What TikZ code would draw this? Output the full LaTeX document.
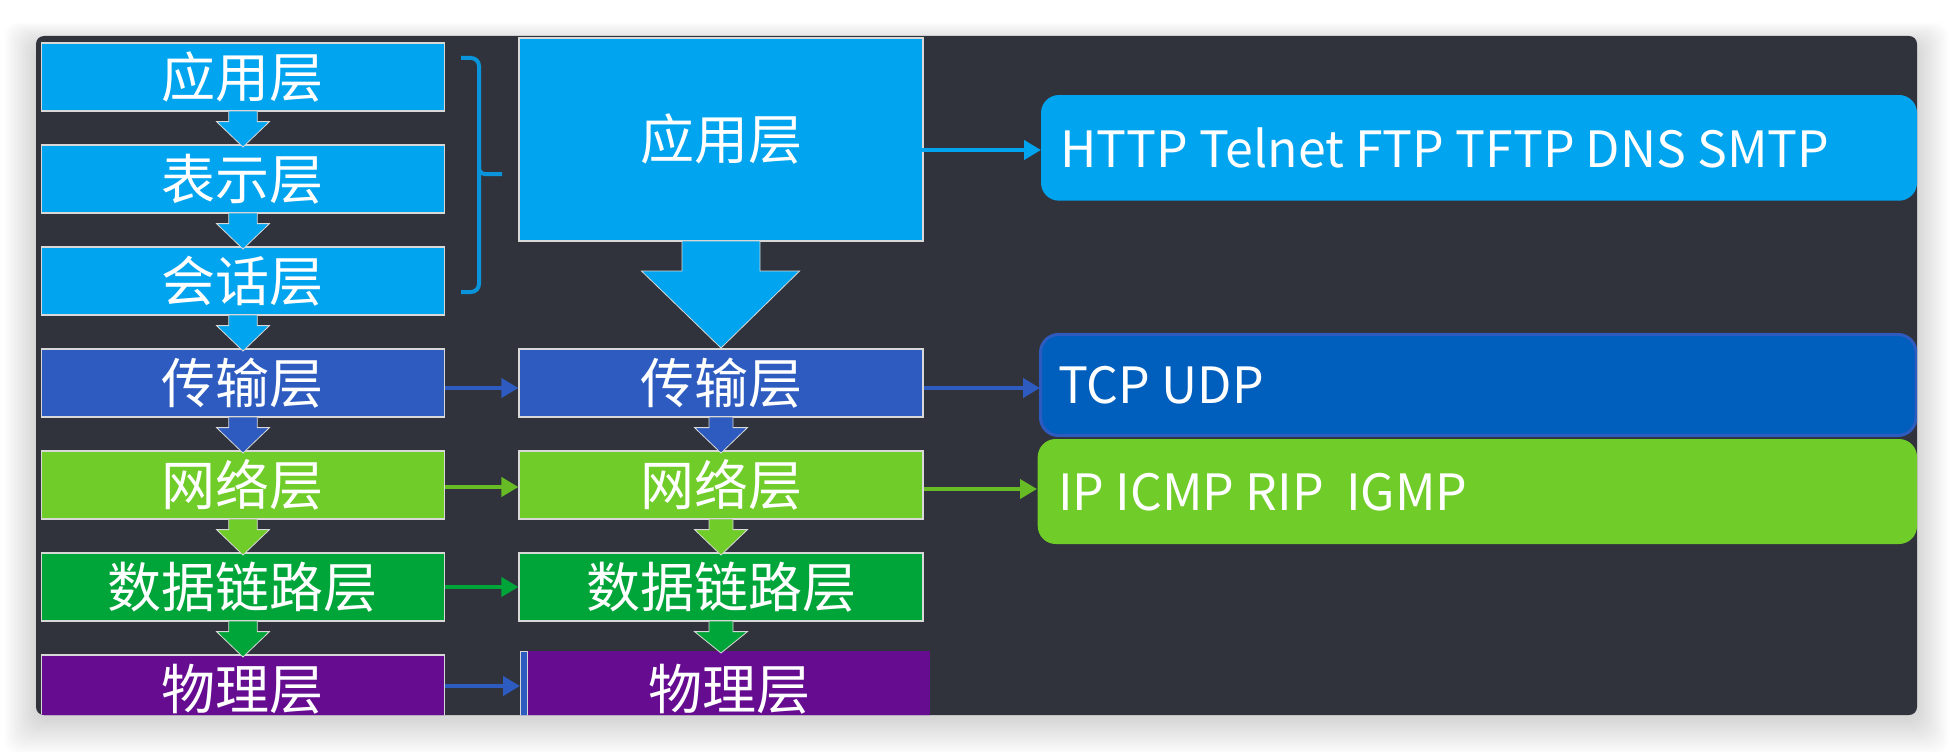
\documentclass[tikz,border=0pt]{standalone}
\usepackage{fontspec}
\setmainfont{Noto Sans CJK SC}
\usetikzlibrary{arrows.meta}
\definecolor{panelc}{HTML}{30333C}
\definecolor{lblue}{HTML}{00A4EF}
\definecolor{tblue}{HTML}{2D5BBF}
\definecolor{ngreen}{HTML}{70CC28}
\definecolor{dgreen}{HTML}{00A53A}
\definecolor{ppurple}{HTML}{660C91}
\definecolor{tcpfill}{HTML}{005EBC}
\definecolor{brk}{HTML}{0A94DB}
\definecolor{edgec}{HTML}{D8D8D8}
\tikzset{
  lay/.style={draw=edgec, line width=1.2pt, minimum width=403pt, minimum height=68pt, inner sep=0pt, text=white, font=\fontsize{54}{60}\selectfont},
  mid/.style={lay, minimum width=404pt},
  proto/.style={rounded corners=18pt, inner sep=0pt},
  prototext/.style={anchor=base west, text=white, inner sep=0pt, font=\fontsize{50}{56}\selectfont},
  harrow/.style={line width=4pt, -{Triangle[length=17pt,width=19pt]}},
  downarr/.style={draw=edgec, line width=0.8pt},
}
% small down arrow: #1 centre x, #2 top y, #3 bottom(tip) y, #4 colour, #5 half shaft, #6 half head
\newcommand{\layarrow}[6]{%
  \filldraw[downarr, fill=#4] (#1-#5,#2) -- (#1-#5,#2+10.6) -- (#1-#6,#2+10.6) -- (#1,#3) -- (#1+#6,#2+10.6) -- (#1+#5,#2+10.6) -- (#1+#5,#2) -- cycle;}
\begin{document}
\begin{tikzpicture}[x=1pt,y=-1pt]
\useasboundingbox (0,0) rectangle (1954,752);
\fill[white] (0,0) rectangle (1954,752);
% soft shadow
\foreach \i in {1,...,40}{
  \fill[black, opacity=0.0045, rounded corners=14pt] (36-0.8*\i,36-0.55*\i+8) rectangle (1917+0.8*\i,715+0.9*\i+4);
}
\fill[panelc, rounded corners=8pt] (36,36) rectangle (1917,715);
\begin{scope}
\clip[rounded corners=8pt] (36,36) rectangle (1917,715);
% left column
\node[lay, fill=lblue] (L1) at (242.9,77) {应用层};
\node[lay, fill=lblue] (L2) at (242.9,179) {表示层};
\node[lay, fill=lblue] (L3) at (242.9,281) {会话层};
\node[lay, fill=tblue] (L4) at (242.9,383) {传输层};
\node[lay, fill=ngreen] (L5) at (242.9,485) {网络层};
\node[lay, fill=dgreen] (L6) at (242.9,587) {数据链路层};
\node[lay, fill=ppurple] (L7) at (242.9,689) {物理层};
% left down arrows
\layarrow{243}{111}{147}{lblue}{14.3}{26.5}
\layarrow{243}{213}{249}{lblue}{14.3}{26.5}
\layarrow{243}{315}{351}{lblue}{14.3}{26.5}
\layarrow{243}{417}{453}{tblue}{14.3}{26.5}
\layarrow{243}{519}{555}{ngreen}{14.3}{26.5}
\layarrow{243}{621}{657}{dgreen}{14.3}{26.5}
% bracket
\draw[brk, line width=4pt, rounded corners=8pt] (461,58) -- (479,58) -- (479,174) -- (479,292) -- (461,292);
\draw[brk, line width=4pt, rounded corners=6pt] (479,160) -- (479,174) -- (502,174);
% middle column
\node[draw=edgec, line width=1.2pt, fill=lblue, minimum width=404pt, minimum height=203pt, inner sep=0pt, text=white, font=\fontsize{54}{60}\selectfont] (M1) at (721,139.5) {应用层};
\node[mid, fill=tblue] (M4) at (721,383) {传输层};
\node[mid, fill=ngreen] (M5) at (721,485) {网络层};
\node[mid, fill=dgreen] (M6) at (721,587) {数据链路层};
\fill[ppurple] (528,651) rectangle (930,730);
\filldraw[draw=edgec, line width=0.8pt, fill=tblue] (520.5,651) rectangle (527,730);
\node[text=white, font=\fontsize{54}{60}\selectfont, inner sep=0pt] (M7) at (729,689) {物理层};
% big arrow
\filldraw[downarr, fill=lblue] (682,241) -- (682,271) -- (641.5,271) -- (721,348) -- (799.6,271) -- (760,271) -- (760,241) -- cycle;
% middle down arrows
\layarrow{721}{417}{453}{tblue}{12}{26.5}
\layarrow{721}{519}{555}{ngreen}{12}{26.5}
\layarrow{721}{621}{653}{dgreen}{12}{26.5}
% right protocol boxes
\fill[proto, lblue] (1041,95) rectangle (1917,200.7);
\node[prototext] (P1) at (1060,167) {HTTP Telnet FTP TFTP DNS SMTP};
\filldraw[proto, fill=tcpfill, draw=tblue, line width=3pt] (1040.5,334.5) rectangle (1916,435.5);
\node[prototext] (P2) at (1058,403) {TCP UDP};
\fill[proto, ngreen] (1037.7,439) rectangle (1917,544);
\node[prototext] (P3) at (1058,510) {IP ICMP RIP\ \ IGMP};
% horizontal arrows
\coordinate (a1s) at (920,150); \coordinate (a1e) at (1041,150);
\draw[harrow, lblue] (a1s) -- (a1e);
\draw[harrow, tblue] (L4.east |- 0,388) -- (M4.west |- 0,388);
\draw[harrow, tblue] (M4.east |- 0,388) -- (1040,388);
\draw[harrow, ngreen!92!black] (L5.east |- 0,487) -- (M5.west |- 0,487);
\draw[harrow, ngreen!92!black] (M5.east |- 0,489) -- (1037,489);
\draw[harrow, dgreen] (L6.east |- 0,587) -- (M6.west |- 0,587);
\draw[harrow, tblue] (L7.east |- 0,686) -- (520,686);
\end{scope}
\end{tikzpicture}
\end{document}
